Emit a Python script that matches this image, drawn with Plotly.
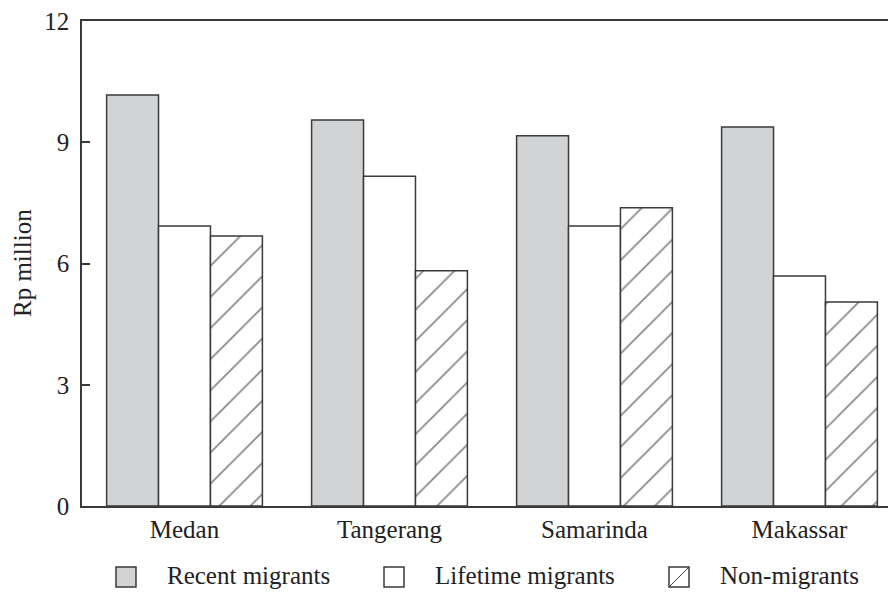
import plotly.graph_objects as go

cities = ["Medan", "Tangerang", "Samarinda", "Makassar"]
recent = [10.17, 9.55, 9.16, 9.38]
lifetime = [6.93, 8.16, 6.93, 5.69]
nonmig = [6.68, 5.82, 7.38, 5.05]
series_names = ["Recent migrants", "Lifetime migrants", "Non-migrants"]
y_ticks = [0, 3, 6, 9, 12]
y_title = "Rp million"

W, H = 888, 592
L, R, T, B = 82, 0, 21, 86
LINE = "#3a3a3a"
FONT = "Liberation Serif, Times New Roman, serif"
FS = 25

fig = go.Figure()
fig.add_bar(x=cities, y=recent, name=series_names[0], marker=dict(color="#d2d3d5", line=dict(color=LINE, width=1.5)))
fig.add_bar(x=cities, y=lifetime, name=series_names[1], marker=dict(color="white", line=dict(color=LINE, width=1.5)))
fig.add_bar(x=cities, y=nonmig, name=series_names[2],
            marker=dict(color="white", line=dict(color=LINE, width=1.5),
                        pattern=dict(shape="/", fgcolor="#111111", bgcolor="white", size=22, solidity=0.08)))

pw = W - L - R
ph = H - T - B
def px(x):
    return (x - L) / pw
def py(y):
    return (H - B - y) / ph

shapes = []
annotations = []
legend_items = [(116, 165), (384, 433), (669, 718)]
for i, (sx, tx) in enumerate(legend_items):
    fill = "#d2d3d5" if i == 0 else "white"
    shapes.append(dict(type="rect", xref="paper", yref="paper",
                       x0=px(sx), x1=px(sx + 20), y0=py(587), y1=py(567),
                       line=dict(color=LINE, width=1.5), fillcolor=fill))
    if i == 2:
        shapes.append(dict(type="line", xref="paper", yref="paper",
                           x0=px(sx), x1=px(sx + 20), y0=py(587), y1=py(567),
                           line=dict(color=LINE, width=1)))
    annotations.append(dict(text=series_names[i], xref="paper", yref="paper",
                            x=px(tx), y=py(575), xanchor="left", yanchor="middle",
                            showarrow=False, font=dict(family=FONT, size=FS, color="#222")))

annotations.append(dict(text=y_title, xref="paper", yref="paper", x=px(22), y=py(263),
                        xanchor="center", yanchor="middle", textangle=-90, showarrow=False,
                        font=dict(family=FONT, size=FS, color="#222")))

fig.update_layout(
    width=W, height=H,
    margin=dict(l=L, r=R, t=T, b=B),
    paper_bgcolor="white", plot_bgcolor="white",
    barmode="group", bargap=0.24, bargroupgap=0,
    showlegend=False,
    font=dict(family=FONT, size=FS, color="#222"),
    shapes=shapes, annotations=annotations,
)
fig.update_xaxes(range=[-0.5, -0.5 + pw / 205.0], showline=True, mirror=True,
                 linecolor=LINE, linewidth=1.5, ticks="", showgrid=False,
                 tickfont=dict(family=FONT, size=FS, color="#222"), ticklabelstandoff=0)
fig.update_yaxes(range=[0, 12], tickvals=y_ticks, showline=True, linecolor=LINE, linewidth=1.5,
                 ticks="inside", ticklen=8, tickcolor=LINE, tickwidth=1.5, showgrid=False, zeroline=False,
                 tickfont=dict(family=FONT, size=FS, color="#222"), ticklabelstandoff=6)

fig.write_html("out.html", config={"displayModeBar": False},
               post_script="document.body.style.margin='0';document.body.style.overflow='hidden';")
